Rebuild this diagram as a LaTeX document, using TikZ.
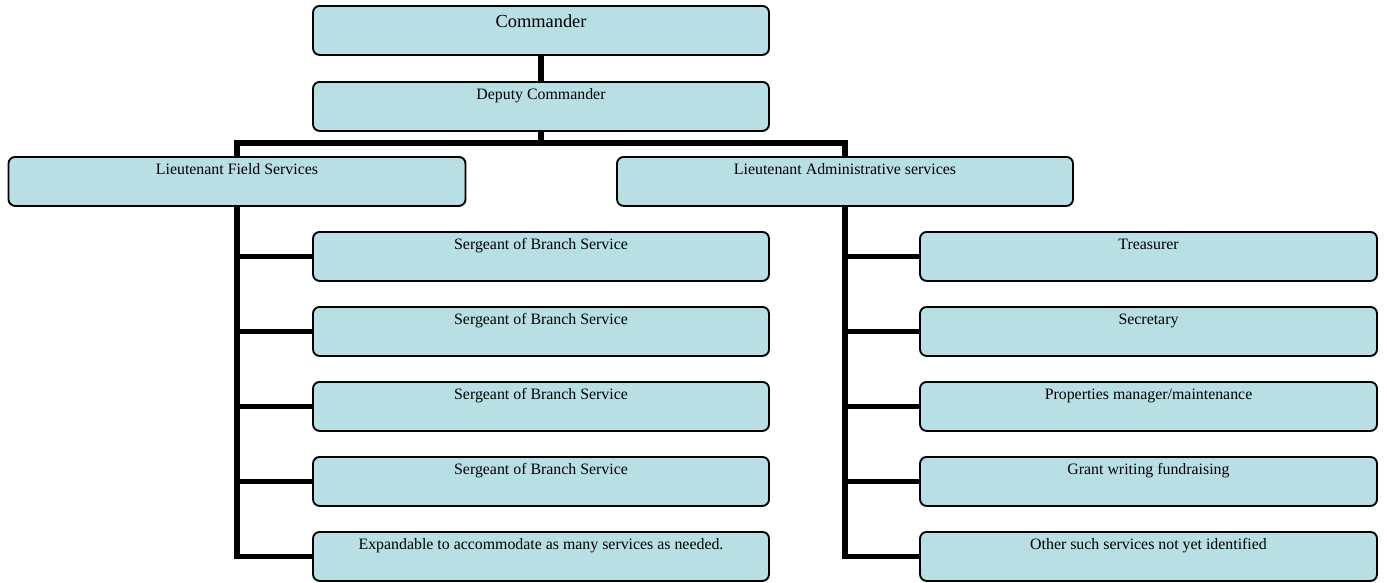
\documentclass[tikz,border=0pt]{standalone}
\usepackage{fontspec}
\setmainfont{Liberation Serif}
\usetikzlibrary{backgrounds}
\definecolor{boxfill}{RGB}{184,223,227}
\tikzset{
  orgbox/.style={draw=black, line width=1.4pt, fill=boxfill, rounded corners=5pt,
    anchor=north, align=center, inner xsep=0pt, inner ysep=4.5pt,
    text height=9pt, text depth=18.75pt, font=\fontsize{11.9}{13}\selectfont},
  topbox/.style={orgbox, text height=12pt, text depth=15.75pt, font=\fontsize{13.8}{15}\selectfont},
  link/.style={line width=4pt, line join=miter, line cap=rect}
}
\begin{document}
\begin{tikzpicture}[x=0.75pt,y=-0.75pt]
\useasboundingbox (0,0) rectangle (1387,582);
% boxes
\node[topbox, minimum width=456*0.75pt] (cmd) at (541,5) {Commander};
\node[orgbox, minimum width=456*0.75pt] (dep) at (541,81) {Deputy Commander};
\node[orgbox, minimum width=457*0.75pt] (ltf) at (237,156) {Lieutenant Field Services};
\node[orgbox, minimum width=456*0.75pt] (lta) at (845,156) {Lieutenant Administrative services};
\node[orgbox, minimum width=456*0.75pt] (s1) at (541,231) {Sergeant of Branch Service};
\node[orgbox, minimum width=456*0.75pt] (s2) at (541,306) {Sergeant of Branch Service};
\node[orgbox, minimum width=456*0.75pt] (s3) at (541,381) {Sergeant of Branch Service};
\node[orgbox, minimum width=456*0.75pt] (s4) at (541,456) {Sergeant of Branch Service};
\node[orgbox, minimum width=456*0.75pt] (s5) at (541,531) {Expandable to accommodate as many services as needed.};
\node[orgbox, minimum width=457*0.75pt] (r1) at (1148.5,231) {Treasurer};
\node[orgbox, minimum width=457*0.75pt] (r2) at (1148.5,306) {Secretary};
\node[orgbox, minimum width=457*0.75pt] (r3) at (1148.5,381) {Properties manager/maintenance};
\node[orgbox, minimum width=457*0.75pt] (r4) at (1148.5,456) {Grant writing fundraising};
\node[orgbox, minimum width=457*0.75pt] (r5) at (1148.5,531) {Other such services not yet identified};
% connectors
\begin{pgfonlayer}{background}
\draw[link] (cmd.south) -- (dep.north);
\draw[link, line cap=butt] (dep.south) -- ++(0,13);
\draw[link] (ltf.north) -- ++(0,-13) -| (lta.north);
\draw[link] (ltf.south) -- (ltf.south |- s5.west) -- (s5.west);
\draw[link] (lta.south) -- (lta.south |- r5.west) -- (r5.west);
\foreach \n in {s1,s2,s3,s4} {
  \draw[link] (ltf.south |- \n.west) -- (\n.west);
}
\foreach \n in {r1,r2,r3,r4} {
  \draw[link] (lta.south |- \n.west) -- (\n.west);
}
\end{pgfonlayer}
\end{tikzpicture}
\end{document}
